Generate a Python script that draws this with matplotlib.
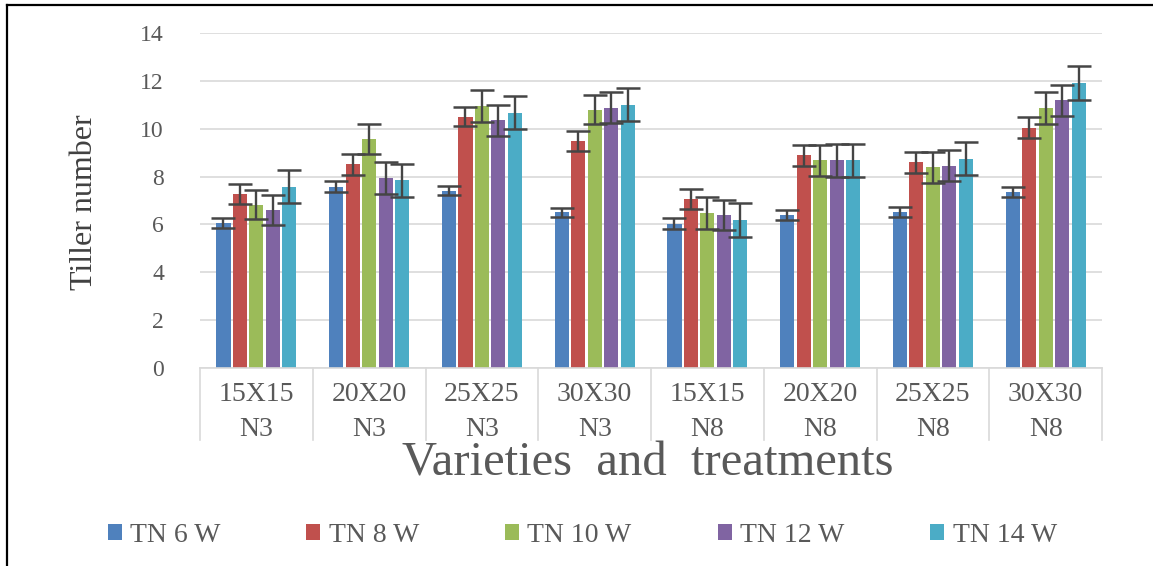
import numpy as np
import matplotlib
matplotlib.use("Agg")
import matplotlib.pyplot as plt
from matplotlib.lines import Line2D
import matplotlib.transforms as mtransforms

# data
spacing = ["15X15", "20X20", "25X25", "30X30", "15X15", "20X20", "25X25", "30X30"]
nitrogen = ["N3", "N3", "N3", "N3", "N8", "N8", "N8", "N8"]
series = ["TN 6 W", "TN 8 W", "TN 10 W", "TN 12 W", "TN 14 W"]

tn6 = [6.05, 7.58, 7.41, 6.51, 6.03, 6.40, 6.51, 7.34]
tn8 = [7.27, 8.52, 10.50, 9.49, 7.06, 8.89, 8.59, 10.04]
tn10 = [6.83, 9.56, 10.94, 10.80, 6.47, 8.68, 8.38, 10.87]
tn12 = [6.61, 7.94, 10.35, 10.87, 6.40, 8.68, 8.45, 11.18]
tn14 = [7.58, 7.85, 10.66, 11.01, 6.19, 8.68, 8.75, 11.91]

err6 = [0.20, 0.22, 0.19, 0.18, 0.23, 0.22, 0.21, 0.21]
err8 = [0.40, 0.44, 0.40, 0.43, 0.42, 0.44, 0.43, 0.43]
err10 = [0.62, 0.62, 0.66, 0.62, 0.66, 0.66, 0.64, 0.66]
err12 = [0.62, 0.66, 0.65, 0.65, 0.62, 0.68, 0.65, 0.66]
err14 = [0.69, 0.69, 0.69, 0.70, 0.70, 0.69, 0.69, 0.69]

values = [tn6, tn8, tn10, tn12, tn14]
errors = [err6, err8, err10, err12, err14]
colors = ["#4F81BD", "#C0504D", "#9BBB59", "#8064A2", "#4BACC6"]

serif = ["Liberation Serif", "DejaVu Serif"]
plt.rcParams["font.family"] = serif

fig = plt.figure(figsize=(11.53, 5.66), dpi=100)
ax = fig.add_axes([0.1735, 0.3498, 0.7823, 0.5919])

x = np.arange(len(spacing))
pitch = 0.146
width = 0.125
for i, (vals, errs) in enumerate(zip(values, errors)):
    pos = x + (i - 2) * pitch
    ax.bar(pos, vals, width, color=colors[i], label=series[i], zorder=2)
    ax.errorbar(pos, vals, yerr=errs, fmt="none", ecolor="#454545",
                elinewidth=1.7, capsize=8.5, capthick=1.8, zorder=3)

ax.set_xlim(-0.5, len(spacing) - 0.5)
ax.set_ylim(0, 14)
ax.set_yticks(range(0, 15, 2))
ax.yaxis.grid(True, color="#D9D9D9", linewidth=1.2, zorder=0)
ax.set_axisbelow(True)
for s in ["top", "right", "left"]:
    ax.spines[s].set_visible(False)
ax.spines["bottom"].set_color("#D9D9D9")
ax.spines["bottom"].set_linewidth(1.2)
ax.tick_params(axis="y", length=0, pad=26, labelsize=17, labelcolor="#595959")

ax.set_xticks(x)
ax.set_xticklabels([f"{a}\n{b}" for a, b in zip(spacing, nitrogen)],
                   fontsize=20, color="#595959", linespacing=1.55)
ax.tick_params(axis="x", length=0, pad=10)

# category box separators
trans = mtransforms.blended_transform_factory(ax.transData, ax.transAxes)
for b in np.arange(-0.5, len(spacing), 1.0):
    ax.plot([b, b], [0, -0.215], transform=trans, color="#D9D9D9",
            linewidth=1.2, clip_on=False)

fig.text(0.562, 1 - 464 / 566, "Varieties  and  treatments", ha="center",
         va="center", fontsize=35, color="#595959")
fig.text(85 / 1153, 1 - 202 / 566, "Tiller number", rotation=90, ha="center",
         va="center", fontsize=23, color="#404040")

leg = fig.legend(loc="center", bbox_to_anchor=(0.505, 1 - 535 / 566), ncol=5,
                 frameon=False, fontsize=20, handlelength=0.5, handleheight=0.5,
                 handletextpad=0.3, columnspacing=3.1)
for t in leg.get_texts():
    t.set_color("#595959")

# page frame (left and top edges)
fig.add_artist(Line2D([7 / 1153, 7 / 1153], [0, 1 - 5 / 566], color="black",
                      linewidth=1.6, transform=fig.transFigure))
fig.add_artist(Line2D([7 / 1153, 1], [1 - 5 / 566, 1 - 5 / 566], color="black",
                      linewidth=1.6, transform=fig.transFigure))

fig.savefig("out.png", dpi=100, facecolor="white")
